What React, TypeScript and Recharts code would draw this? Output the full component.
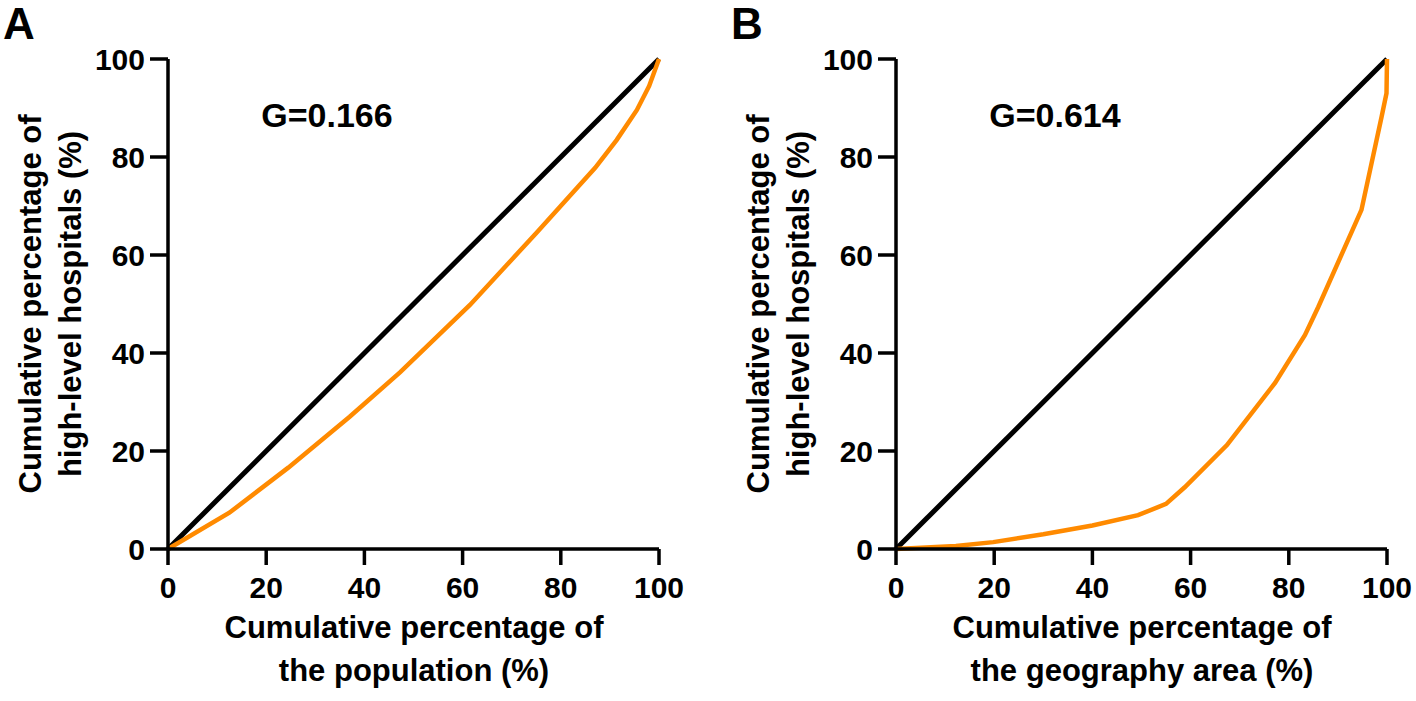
import { Line, LineChart, XAxis, YAxis } from "recharts";

// Lorenz curve points, [x%, y%]
const populationCurve = [
  [0, 0], [12.5, 7.4], [24.5, 16.6], [37, 27], [47.3, 36.1], [61.5, 49.8],
  [75.2, 64.7], [87, 77.8], [91.4, 83.5], [95.5, 89.6], [98, 94.5], [100, 100],
];
const areaCurve = [
  [0, 0], [12.2, 0.6], [19.8, 1.4], [30, 3], [40, 4.8], [49.3, 6.9],
  [55, 9.2], [58.8, 12.6], [67.4, 21.2], [77.2, 33.9], [83.3, 43.7], [86, 49.4],
  [94.8, 69.2], [98.9, 88.2], [99.9, 93], [100, 100],
];
const equality = [[0, 0], [100, 100]];
const ticks = [0, 20, 40, 60, 80, 100];
const panels = [
  { letter: "A", gini: "G=0.166", curve: populationCurve, xTitle: ["Cumulative percentage of", "the population (%)"] },
  { letter: "B", gini: "G=0.614", curve: areaCurve, xTitle: ["Cumulative percentage of", "the geography area (%)"] },
];
const yTitle = ["Cumulative percentage of", "high-level hospitals (%)"];

const FONT = "'Liberation Sans', Arial, Helvetica, sans-serif";
const ORANGE = "#ff8a00";

const toPoints = (pts: number[][]) => pts.map(([x, y]) => ({ x, y }));

function Panel({ panel, left, width }: { panel: (typeof panels)[number]; left: number; width: number }) {
  const tickStyle = { fontSize: 30, fontWeight: 700, fill: "#000", fontFamily: FONT };
  const axisLine = { stroke: "#000", strokeWidth: 3.5 };
  return (
    <div style={{ position: "absolute", left, top: 0 }}>
      <LineChart width={width} height={701} margin={{ top: 59, right: width - 659, bottom: 0, left: 0 }}>
        <XAxis
          type="number"
          dataKey="x"
          domain={[0, 100]}
          ticks={ticks}
          height={152}
          tick={tickStyle}
          tickSize={16}
          tickMargin={12}
          axisLine={axisLine}
          tickLine={axisLine}
        />
        <YAxis
          type="number"
          dataKey="y"
          domain={[0, 100]}
          ticks={ticks}
          width={168}
          tick={tickStyle}
          tickSize={18}
          tickMargin={5}
          axisLine={axisLine}
          tickLine={axisLine}
        />
        <Line
          data={toPoints(equality)}
          dataKey="y"
          type="linear"
          stroke="#000"
          strokeWidth={5}
          dot={false}
          isAnimationActive={false}
        />
        <Line
          data={toPoints(panel.curve)}
          dataKey="y"
          type="linear"
          stroke={ORANGE}
          strokeWidth={4.5}
          dot={false}
          isAnimationActive={false}
        />
      </LineChart>
      <svg width={width} height={701} style={{ position: "absolute", left: 0, top: 0, pointerEvents: "none" }}>
        <g fontFamily={FONT} fontWeight={700} fill="#000">
          <text x={3} y={39} fontSize={44}>{panel.letter}</text>
          <text x={327} y={115} fontSize={34} textAnchor="middle" dominantBaseline="central">{panel.gini}</text>
          <text x={414} y={627} fontSize={31} textAnchor="middle" dominantBaseline="central">{panel.xTitle[0]}</text>
          <text x={414} y={670} fontSize={31} textAnchor="middle" dominantBaseline="central">{panel.xTitle[1]}</text>
          <text transform="translate(30,304) rotate(-90)" fontSize={31} textAnchor="middle" dominantBaseline="central">{yTitle[0]}</text>
          <text transform="translate(70,304) rotate(-90)" fontSize={31} textAnchor="middle" dominantBaseline="central">{yTitle[1]}</text>
        </g>
      </svg>
    </div>
  );
}

export default function App() {
  return (
    <div style={{ position: "absolute", left: 0, top: 0, width: 1416, height: 701, background: "#fff", overflow: "hidden" }}>
      <Panel panel={panels[0]} left={0} width={700} />
      <Panel panel={panels[1]} left={728} width={688} />
    </div>
  );
}
